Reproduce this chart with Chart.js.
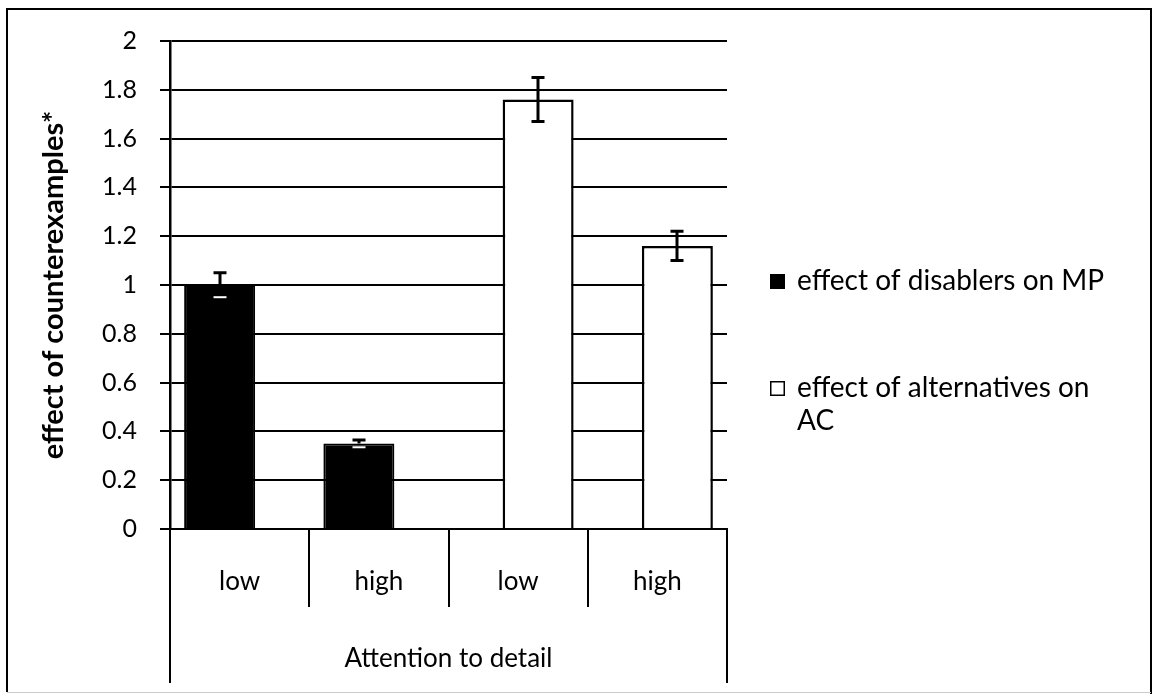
<!DOCTYPE html>
<html><head><meta charset="utf-8">
<script src="https://cdn.jsdelivr.net/npm/chart.js@4/dist/chart.umd.min.js"></script>
<style>html,body{margin:0;padding:0;background:#fff}</style>
</head><body>
<canvas id="c" width="1157" height="694"></canvas>
<script>
// ---- data ----
const categories = ['low', 'high', 'low', 'high'];
const groupLabel = 'Attention to detail';
const seriesNames = ['effect of disablers on MP', 'effect of alternatives on AC'];
const disablersMP = [1.00, 0.35, null, null];
const disablersErr = [0.05, 0.015, null, null];
const alternativesAC = [null, null, 1.76, 1.16];
const alternativesErr = [null, null, 0.09, 0.06];
const yTickLabels = ['0', '0.2', '0.4', '0.6', '0.8', '1', '1.2', '1.4', '1.6', '1.8', '2'];
const yTitle = 'effect of counterexamples*';

const FONT = 'Lato';
const errs = [disablersErr, alternativesErr];

const framePlugin = {
  id: 'frame',
  beforeDraw(chart) {
    const ctx = chart.ctx;
    ctx.save();
    ctx.fillStyle = '#fff';
    ctx.fillRect(0, 0, chart.width, chart.height);
    ctx.restore();
  },
  afterDraw(chart) {
    const ctx = chart.ctx;
    const xs = chart.scales.x;
    const ca = chart.chartArea;
    ctx.save();
    // outer frame
    ctx.strokeStyle = '#000';
    ctx.lineWidth = 2;
    ctx.beginPath();
    ctx.moveTo(7, 692); ctx.lineTo(7, 9); ctx.lineTo(1151, 9); ctx.lineTo(1151, 694);
    ctx.stroke();
    ctx.strokeStyle = '#ccc';
    ctx.lineWidth = 1;
    ctx.beginPath(); ctx.moveTo(7, 692.5); ctx.lineTo(1151, 692.5); ctx.stroke();
    // multi-level category box lines
    const n = categories.length;
    const w = (ca.right - ca.left) / n;
    ctx.strokeStyle = '#000';
    ctx.lineWidth = 2;
    for (let k = 0; k <= n; k++) {
      const x = Math.round(ca.left + k * w);
      ctx.beginPath();
      ctx.moveTo(x, ca.bottom);
      ctx.lineTo(x, (k === 0 || k === n) ? xs.bottom : ca.bottom + 78);
      ctx.stroke();
    }
    // legend
    ctx.font = '28px ' + FONT;
    ctx.textBaseline = 'middle';
    const lx = 770, tx = 797, maxW = 335;
    const rows = [281, 388];
    chart.data.datasets.forEach((ds, i) => {
      const y = rows[i];
      ctx.fillStyle = ds.backgroundColor;
      ctx.fillRect(lx, y - 7, 15, 15);
      ctx.strokeStyle = '#000';
      ctx.lineWidth = 1.5;
      ctx.strokeRect(lx + 0.75, y - 6.25, 13.5, 13.5);
      ctx.fillStyle = '#000';
      // word wrap
      const words = ds.label.split(' ');
      let line = '', lines = [];
      words.forEach(wd => {
        const t = line ? line + ' ' + wd : wd;
        if (ctx.measureText(t).width > maxW && line) { lines.push(line); line = wd; }
        else line = t;
      });
      lines.push(line);
      lines.forEach((l, j) => ctx.fillText(l, tx, y + j * 33));
    });
    ctx.restore();
  },
  afterDatasetsDraw(chart) {
    const ctx = chart.ctx;
    const ys = chart.scales.y;
    ctx.save();
    ctx.lineWidth = 3;
    chart.data.datasets.forEach((ds, di) => {
      const meta = chart.getDatasetMeta(di);
      ds.data.forEach((v, i) => {
        const e = errs[di][i];
        if (v == null || e == null) return;
        const el = meta.data[i];
        const x = Math.round(el.x);
        const yTop = ys.getPixelForValue(v + e);
        const yBot = ys.getPixelForValue(v - e);
        const yBar = ys.getPixelForValue(v);
        const cap = 6.5;
        ctx.strokeStyle = '#000';
        ctx.beginPath();
        ctx.moveTo(x, yTop); ctx.lineTo(x, di === 0 ? yBar : yBot);
        ctx.moveTo(x - cap, yTop); ctx.lineTo(x + cap, yTop);
        if (di !== 0) { ctx.moveTo(x - cap, yBot); ctx.lineTo(x + cap, yBot); }
        ctx.stroke();
        if (di === 0) {
          ctx.strokeStyle = '#fff';
          ctx.lineWidth = 2;
          ctx.beginPath();
          ctx.moveTo(x - cap, yBot); ctx.lineTo(x + cap, yBot);
          ctx.stroke();
          ctx.lineWidth = 3;
        }
      });
    });
    ctx.restore();
  }
};

function build() {
  new Chart(document.getElementById('c'), {
    type: 'bar',
    data: {
      labels: categories,
      datasets: [
        { label: seriesNames[0], data: disablersMP, backgroundColor: '#000', borderColor: '#000', borderWidth: 2 },
        { label: seriesNames[1], data: alternativesAC, backgroundColor: '#fff', borderColor: '#000', borderWidth: 2.5 }
      ]
    },
    options: {
      responsive: false,
      animation: false,
      devicePixelRatio: 1,
      categoryPercentage: 0.5745,
      barPercentage: 1.775,
      layout: { padding: { top: 41, right: 430, bottom: 11, left: 0 } },
      plugins: { legend: { display: false }, tooltip: { enabled: false } },
      scales: {
        x: {
          offset: true,
          grid: { display: false, drawTicks: false },
          border: { display: true, color: '#000', width: 2 },
          ticks: { color: '#000', font: { family: FONT, size: 26 }, padding: 37 },
          title: { display: true, text: groupLabel, color: '#000', font: { family: FONT, size: 26 }, padding: { top: 4, bottom: 9 } },
          afterFit(s) { s.height = 154; }
        },
        y: {
          min: 0, max: 2,
          ticks: { stepSize: 0.2, color: '#000', font: { family: FONT, size: 25 }, padding: 23,
                   callback: (v, i) => yTickLabels[i] },
          grid: { color: '#000', lineWidth: 2, tickLength: 10, drawTicks: true },
          border: { display: true, color: '#000', width: 2.5 },
          title: { display: true, text: yTitle, color: '#000', font: { family: FONT, size: 29, weight: 'bold' }, padding: { top: 36, bottom: 4 } },
          afterFit(s) { s.width = 170; }
        }
      }
    },
    plugins: [framePlugin]
  });
}
if (document.fonts && document.fonts.load) {
  Promise.all([document.fonts.load('25px Lato'), document.fonts.load('bold 25px Lato')]).then(build, build);
} else build();
</script>
</body></html>
